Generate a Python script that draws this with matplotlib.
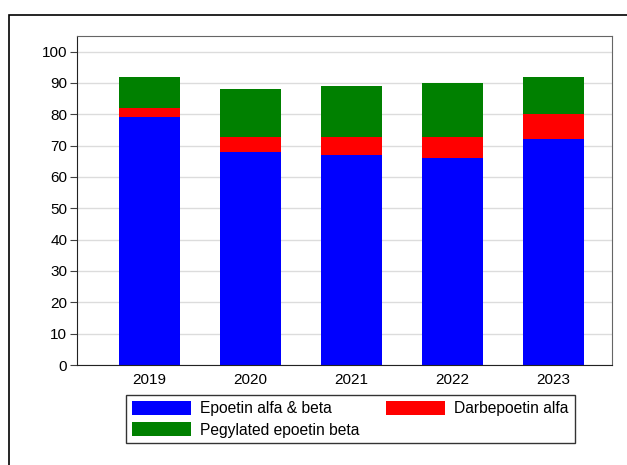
import matplotlib.pyplot as plt
from matplotlib.patches import Rectangle

plt.rcParams['font.family'] = ['Liberation Sans', 'DejaVu Sans']

years = ['2019', '2020', '2021', '2022', '2023']
epoetin = [79, 68, 67, 66, 72]
darbepoetin = [3, 4.7, 5.7, 6.7, 8]
pegylated = [10, 15.3, 16.3, 17.3, 12]

x = list(range(len(years)))
bottom2 = [a + b for a, b in zip(epoetin, darbepoetin)]

fig = plt.figure(figsize=(6.27, 4.65), dpi=100)
# outer frame, runs off the right and bottom edges
fig.patches.append(Rectangle((9 / 627, -0.1), 1.2, (465 - 15) / 465 + 0.1,
                             transform=fig.transFigure, fill=False,
                             edgecolor='black', linewidth=1.2))

ax = fig.add_axes([77 / 627, 100 / 465, 535 / 627, 329 / 465])
b1 = ax.bar(x, epoetin, width=0.6, color='#0000ff', label='Epoetin alfa & beta', zorder=2)
b2 = ax.bar(x, darbepoetin, width=0.6, bottom=epoetin, color='#ff0000', label='Darbepoetin alfa', zorder=2)
b3 = ax.bar(x, pegylated, width=0.6, bottom=bottom2, color='#008000', label='Pegylated epoetin beta', zorder=2)

ax.set_xlim(-0.72, 4.58)
ax.set_ylim(0, 105)
ax.set_yticks(range(0, 101, 10))
ax.set_xticks(x, years)
ax.yaxis.grid(True, color='#dcdcdc', linewidth=1, zorder=0)
ax.tick_params(axis='x', length=0, labelsize=11, pad=6)
ax.tick_params(axis='y', length=5, labelsize=11, color='#404040', pad=2)
for s in ax.spines.values():
    s.set_color('#666666')
ax.spines['left'].set_color('#222222')
ax.spines['bottom'].set_color('#222222')

leg = fig.legend([b1, b3, b2], ['Epoetin alfa & beta', 'Pegylated epoetin beta', 'Darbepoetin alfa'],
                 ncol=2, loc='upper left', bbox_to_anchor=(126 / 627, 1 - 395 / 465),
                 frameon=True, fancybox=False, edgecolor='black', fontsize=11.25,
                 handlelength=3.8, handleheight=1.03, handletextpad=0.58,
                 columnspacing=1.67, borderpad=0.38, labelspacing=0.36, borderaxespad=0)
leg.get_frame().set_linewidth(1.0)

fig.savefig('out.png', dpi=100)
